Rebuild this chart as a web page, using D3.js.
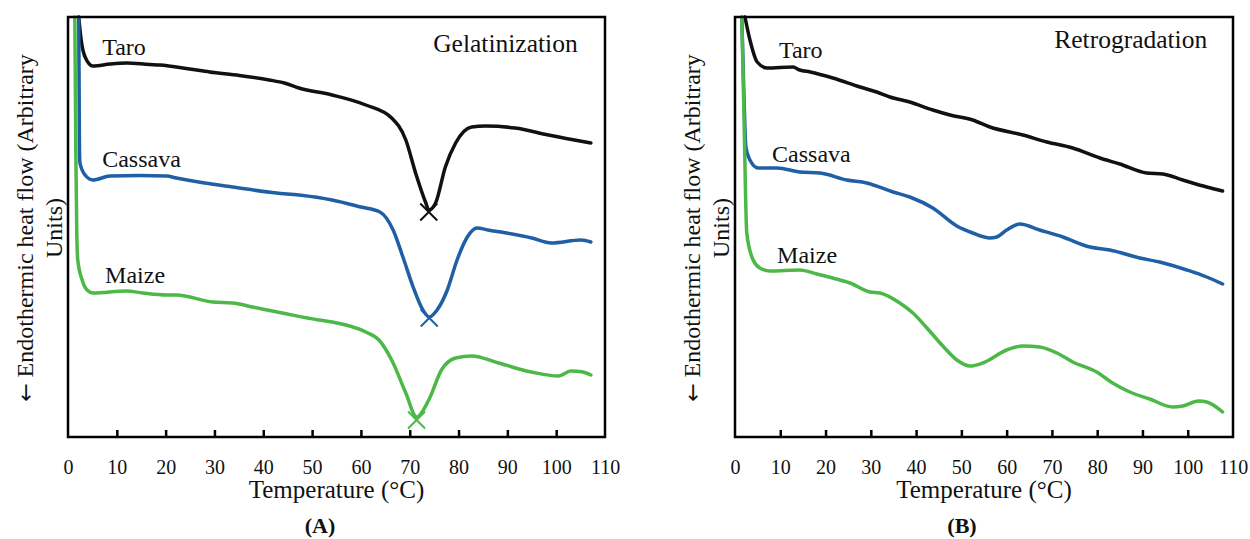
<!DOCTYPE html>
<html>
<head>
<meta charset="utf-8">
<script src="https://cdn.jsdelivr.net/npm/d3@7"></script>
<style>
  body { margin: 0; background: #fff; }
  text { font-family: "Liberation Serif", "Times New Roman", serif; fill: #111; }
</style>
</head>
<body>
<svg id="chart" width="1250" height="539"></svg>
<script>
// temperature axis ticks (°C)
const tempTicks = [0, 10, 20, 30, 40, 50, 60, 70, 80, 90, 100, 110];

// DSC traces, [temperature °C, heat flow in arbitrary units]
// (A) gelatinization
const taroGel = [[2.2,42],[2.7,39.7],[3.5,38],[5.1,37.1],[8.6,37.3],[12,37.4],[16.7,37.25],[18.8,37.2],[24.9,36.8],[29,36.5],[35.1,36.15],[41.2,35.7],[44.3,35.4],[47.3,34.9],[54.1,34.2],[61,33.2],[66.3,31.9],[69.2,29.7],[71.2,26.4],[73.3,23.4],[73.9,22.7],[75.3,23.4],[77.3,27],[79.4,29.4],[82.7,31],[85.5,31.1],[91.6,30.9],[98.4,30.2],[107.1,29.4]];
const cassavaGel = [[2.2,42],[2.35,28.7],[2.45,27.4],[3.5,26.2],[5.1,25.7],[8.6,26.1],[14.7,26.15],[20.2,26.1],[22.2,25.9],[28,25.4],[33.7,25],[42.7,24.4],[47.3,24.2],[54.1,23.7],[60,23],[63.9,22.5],[66.6,20.7],[68.6,18],[70.7,15],[72.7,12.7],[74,12],[75.6,12.7],[77.7,14.7],[79.7,17.7],[81.8,20],[83.8,20.9],[86,20.7],[89.8,20.4],[95,19.9],[99,19.4],[105.1,19.7],[107.1,19.5]];
const maizeGel = [[1.4,42],[1.6,28.7],[1.8,20.4],[2,17.7],[2.9,15.7],[3.9,14.7],[5.1,14.4],[12,14.6],[15.3,14.4],[20.2,14.2],[22.2,14.2],[29.6,13.5],[33.7,13.4],[37.8,13],[43.9,12.4],[51.4,11.7],[54.1,11.5],[61,10.5],[63.7,9.7],[66.3,7.7],[69.2,4.4],[71.4,2],[73.9,3.7],[76.5,6.7],[79.4,7.9],[82.7,8.1],[88.2,7.4],[94.9,6.5],[100.5,6.1],[103,6.6],[105.5,6.5],[107.1,6.2]];
// peak temperatures marked with a cross
const gelPeaks = [[73.9,22.5],[74,11.9],[71.4,1.7]];

// (B) retrogradation
const taroRet = [[2.2,42],[3.3,39.7],[4.9,37.5],[7.1,36.9],[12.8,37],[14.3,36.7],[16.6,36.5],[21.6,35.9],[27.6,35],[31.3,34.5],[34.2,34],[38.6,33.5],[43.7,32.7],[47.5,32.2],[52.5,31.7],[56.3,31],[63.6,30.2],[68.9,29.5],[74.6,28.9],[80.6,27.9],[85,27.3],[90.9,26.4],[94.5,26.3],[98.9,25.7],[104.2,25],[107.7,24.6]];
const cassavaRet = [[1.5,42],[2,33.7],[2.4,29],[3.3,27.7],[5.1,26.9],[9.3,26.9],[14.3,26.5],[18.8,26.4],[24.7,25.7],[29.1,25.4],[34.9,24.5],[38.6,24],[43.7,22.9],[49,21.1],[52.5,20.4],[56.3,19.9],[57.8,20],[60,20.7],[62.9,21.3],[67.3,20.7],[72.4,20],[78.4,19],[82.8,18.7],[89.4,17.9],[93.8,17.5],[99.8,16.7],[104.2,16],[107.7,15.3]];
const maizeRet = [[1.5,42],[2,31.7],[2.6,20.4],[4,17.7],[5.5,16.9],[7.7,16.6],[14.3,16.7],[18.1,16.3],[21.6,15.9],[25.4,15.4],[29.8,14.5],[32,14.4],[36.4,13.4],[39.3,12.4],[42.4,10.9],[45.9,9.1],[49,7.7],[51.9,7.1],[54.7,7.4],[60,8.7],[63.6,9.1],[67.3,9],[71.1,8.4],[74.6,7.5],[79.9,6.5],[83.4,5.4],[87.2,4.5],[91.6,3.8],[96.7,3],[98.9,3.1],[102.4,3.6],[104.2,3.5],[107.7,2.5]];

const sampleNames = ["Taro", "Cassava", "Maize"];
const sampleColors = ["#111111", "#1f5fa5", "#4cb848"];

const svg = d3.select("#chart");

function drawPanel(cfg) {
    const g = svg.append("g");
    const x = d3.scaleLinear().domain([0, 110]).range([cfg.left, cfg.right]);
    const y = d3.scaleLinear().domain([0, 42]).range([437, 17]);

    // curves
    const line = d3.line()
        .x(d => x(d[0]))
        .y(d => y(d[1]))
        .curve(d3.curveMonotoneX);

    cfg.series.forEach((s, i) => {
        g.append("path")
            .datum(s)
            .attr("fill", "none")
            .attr("stroke", sampleColors[i])
            .attr("stroke-width", 3.5)
            .attr("stroke-linejoin", "round")
            .attr("stroke-linecap", "round")
            .attr("d", line);
    });

    if (cfg.peaks) {
        g.selectAll(".peak")
            .data(cfg.peaks)
            .enter().append("path")
            .attr("class", "peak")
            .attr("transform", d => `translate(${x(d[0])},${y(d[1])})`)
            .attr("d", d3.symbol(d3.symbolX, 190))
            .attr("fill", "none")
            .attr("stroke", (d, i) => sampleColors[i])
            .attr("stroke-width", 2);
    }

    // frame
    g.append("rect")
        .attr("x", x(0))
        .attr("y", y(42))
        .attr("width", x(110) - x(0))
        .attr("height", y(0) - y(42))
        .attr("fill", "none")
        .attr("stroke", "#000")
        .attr("stroke-width", 2.5);

    // x axis with inward ticks
    const axis = d3.axisBottom(x)
        .tickValues(tempTicks)
        .tickSizeInner(-7)
        .tickSizeOuter(0)
        .tickPadding(23);
    const ax = g.append("g")
        .attr("transform", `translate(0,${y(0)})`)
        .call(axis);
    ax.select(".domain").remove();
    ax.selectAll(".tick line")
        .attr("stroke", "#000")
        .attr("stroke-width", 2.5)
        .attr("display", d => (d === 0 || d === 110) ? "none" : null);
    ax.selectAll(".tick text")
        .style("font-family", '"Liberation Serif", serif')
        .style("font-size", "20px")
        .attr("fill", "#111");

    // sample labels
    cfg.labels.forEach((l, i) => {
        g.append("text")
            .attr("x", x(l[0]))
            .attr("y", y(l[1]))
            .style("font-size", "24px")
            .text(sampleNames[i]);
    });

    g.append("text")
        .attr("x", x(cfg.titlePos[0]))
        .attr("y", y(cfg.titlePos[1]))
        .attr("text-anchor", "end")
        .style("font-size", "25.5px")
        .text(cfg.title);

    // axis titles
    g.append("text")
        .attr("x", (cfg.left + cfg.right) / 2)
        .attr("y", 498)
        .attr("text-anchor", "middle")
        .style("font-size", "25px")
        .text("Temperature (°C)");

    const yt = g.append("text")
        .attr("transform", `translate(${cfg.yTitleX},228) rotate(-90)`)
        .attr("text-anchor", "middle")
        .style("font-size", "24px");
    const l1 = yt.append("tspan").attr("x", 0).attr("y", 0);
    l1.append("tspan").style("font-family", '"DejaVu Sans", sans-serif').style("font-size", "22px").text("←");
    l1.append("tspan").text(" Endothermic heat flow (Arbitrary");
    yt.append("tspan").attr("x", 0).attr("y", 29).text("Units)");

    g.append("text")
        .attr("x", cfg.panelX)
        .attr("y", 533)
        .attr("text-anchor", "middle")
        .style("font-size", "22px")
        .style("font-weight", "bold")
        .text(cfg.panel);
}

drawPanel({
    left: 68, right: 605,
    series: [taroGel, cassavaGel, maizeGel],
    peaks: gelPeaks,
    labels: [[7, 38.2], [7, 27], [7.6, 15.4]],
    title: "Gelatinization", titlePos: [104.4, 38.5],
    yTitleX: 33, panel: "(A)", panelX: 320
});

drawPanel({
    left: 735, right: 1233,
    series: [taroRet, cassavaRet, maizeRet],
    peaks: null,
    labels: [[9.7, 37.9], [8.2, 27.5], [9.3, 17.4]],
    title: "Retrogradation", titlePos: [104.3, 38.9],
    yTitleX: 700, panel: "(B)", panelX: 962
});
</script>
</body>
</html>
